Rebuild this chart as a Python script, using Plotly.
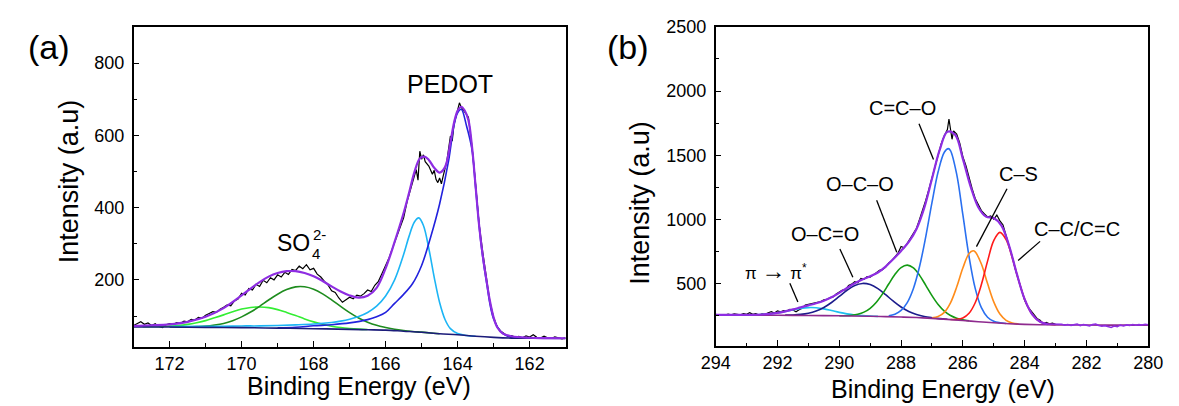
import plotly.graph_objects as go

# ---------------- Panel (a): S 2p ----------------
a_data_E = [173.0,172.9,172.8,172.7,172.6,172.5,172.4,172.3,172.2,172.1,172.0,171.9,171.8,171.7,171.6,171.5,171.4,171.3,171.2,171.1,
            171.0,170.9,170.8,170.7,170.6,170.5,170.4,170.3,170.2,170.1,170.0,169.9,169.8,169.7,169.6,169.5,169.4,169.3,169.2,169.1,
            169.0,168.9,168.8,168.7,168.6,168.5,168.4,168.3,168.2,168.1,168.0,167.9,167.8,167.7,167.6,167.5,167.4,167.3,167.2,167.1,
            167.0,166.9,166.8,166.7,166.6,166.5,166.4,166.3,166.2,166.1,166.0,165.9,165.8,165.7,165.6,165.5,165.4,165.3,165.2,165.15,
            165.1,165.05,165.0,164.95,164.9,164.8,164.7,164.65,164.6,164.55,164.5,164.45,164.4,164.3,164.2,164.15,164.1,164.0,163.95,163.9,
            163.85,163.8,163.7,163.6,163.5,163.4,163.3,163.2,163.1,163.0,162.9,162.8,162.7,162.6,162.5,162.4,162.3,162.2,162.1,162.0,
            161.9,161.8,161.7,161.6,161.5,161.4,161.3,161.2,161.1,161.0]
a_data_I = [74,80,84,77,81,74,79,71,68,76,79,77,82,80,86,84,91,89,96,94,
            102,107,112,110,119,124,131,128,142,147,163,158,176,172,188,182,199,192,206,200,
            214,208,221,215,229,226,238,231,242,228,232,216,208,196,186,170,165,150,138,145,
            152,148,158,155,162,172,168,185,196,218,240,262,290,318,345,372,418,452,488,505,
            476,556,534,546,527,515,492,503,478,469,482,466,488,528,598,584,630,672,690,678,
            672,664,650,568,465,352,275,205,138,96,70,58,50,44,46,41,44,40,45,42,
            48,41,39,44,40,38,42,39,37,40]

a_env_E = [173.0,172.5,172.0,171.5,171.0,170.5,170.0,169.75,169.5,169.25,169.0,168.75,168.5,168.25,168.0,167.75,167.5,167.25,167.0,166.75,
           166.5,166.25,166.0,165.75,165.5,165.35,165.2,165.05,164.92,164.8,164.65,164.5,164.35,164.2,164.1,164.0,163.9,163.8,163.7,163.6,
           163.5,163.4,163.3,163.2,163.1,163.0,162.9,162.75,162.5,162.0,161.5,161.0]
a_env_I = [73,74.5,77,84,98,122,157,176,194,209,219,224,224,219,210,197,182,168,157,151,
           156,178,232,305,385,440,498,536,541,532,510,497,512,580,635,668,679,668,642,568,
           458,348,266,200,140,96,69,52,44,40,39,38.5]

a_bg_E = [173.0,172.0,171.0,170.0,169.0,168.0,167.0,166.5,166.0,165.5,165.0,164.5,164.0,163.5,163.0,162.5,162.0,161.0]
a_bg_I = [70,69.5,68.5,68,66.5,65,63,62,61,58,55,51,48,44,41,39,38.5,38]

a_lg_E = [172.75,172.5,172.25,172.0,171.75,171.5,171.25,171.0,170.75,170.5,170.25,170.0,169.75,169.5,169.25,169.0,168.75,168.5,168.25,168.0,
          167.75,167.5,167.25,167.0,166.75,166.5]
a_lg_I = [70.3,70.6,70.8,72.1,73.6,76.8,81.5,87.3,95.1,103.2,111.8,119.2,123.7,125,123.2,117.7,109.8,101.2,92.1,83.8,
          77.0,71.8,68.1,65.6,63.8,62.6]

a_dg_E = [172.0,171.75,171.5,171.25,171.0,170.75,170.5,170.25,170.0,169.75,169.5,169.25,169.0,168.75,168.5,168.25,168.0,167.75,167.5,167.25,
          167.0,166.75,166.5,166.25,166.0,165.75,165.5,165.25,165.0,164.75,164.5]
a_dg_I = [69.6,69.4,69.8,70.7,72.0,75.0,79.5,87.1,97.7,111.0,126.9,144.4,160.4,173.1,180.7,180.9,174.2,161.4,144.8,126.8,
          109.6,94.7,83.0,74.3,68.3,63.4,60.0,57.4,55.4,53.2,51.1]

a_cy_E = [172.0,171.0,170.5,170.0,169.5,169.0,168.5,168.0,167.5,167.25,167.0,166.75,166.5,166.25,166.0,165.75,165.5,165.35,165.2,165.08,
          164.95,164.8,164.65,164.5,164.35,164.2,164.0,163.75,163.5]
a_cy_I = [71.0,71.7,71.8,72.6,72.7,73.7,75.4,77.8,82.3,85.9,91.1,98.6,109.9,127.3,155.3,200.1,270,320.4,360.2,371.5,
          350.6,286.9,207,137.3,90.4,65.1,51.5,46.3,44]

a_bl_E = [169.0,168.5,168.0,167.5,167.0,166.5,166.25,166.0,165.75,165.5,165.25,165.0,164.75,164.5,164.25,164.1,164.0,163.9,163.75,163.6,
          163.5,163.35,163.2,163.0,162.75,162.5,162.25,162.0]
a_bl_I = [67.5,69,73,76,81,90,98,110,135,160,190,240,318,410,530,628,662,672,625,560,
          455,300,195,92,52,41,39,38.5]

# ---------------- Panel (b): C 1s ----------------
b_data_E = [294.0,293.9,293.8,293.7,293.6,293.5,293.4,293.3,293.2,293.1,293.0,292.9,292.8,292.7,292.6,292.5,292.4,292.3,292.2,292.1,
            292.0,291.9,291.8,291.7,291.6,291.5,291.4,291.3,291.2,291.1,291.0,290.9,290.8,290.7,290.6,290.5,290.4,290.3,290.2,290.1,
            290.0,289.9,289.8,289.7,289.6,289.5,289.4,289.3,289.2,289.1,289.0,288.9,288.8,288.7,288.6,288.5,288.4,288.3,288.2,288.1,
            288.0,287.9,287.8,287.7,287.6,287.5,287.4,287.3,287.2,287.1,287.0,286.9,286.8,286.7,286.6,286.5,286.45,286.4,286.35,286.3,
            286.2,286.1,286.0,285.9,285.8,285.7,285.6,285.5,285.4,285.3,285.2,285.1,285.0,284.9,284.8,284.7,284.6,284.5,284.4,284.3,
            284.2,284.1,284.0,283.9,283.8,283.7,283.6,283.5,283.4,283.3,283.2,283.1,283.0]
b_data_I = [262,256,260,257,263,259,266,261,258,268,263,275,262,268,257,266,263,275,283,272,
            289,282,291,287,300,296,282,298,310,335,341,344,349,355,362,375,378,392,398,421,
            438,450,452,487,497,516,508,541,535,556,551,572,586,604,610,630,663,680,714,738,
            790,780,815,858,890,932,1002,1070,1150,1235,1320,1425,1498,1590,1652,1700,1783,1700,1625,1690,
            1665,1595,1490,1420,1318,1240,1164,1110,1070,1043,1020,1028,1004,1035,990,958,880,800,710,612,
            528,452,372,322,289,262,230,216,189,200,188,194,185]

b_env_E = [294.0,293.5,293.0,292.75,292.5,292.25,292.0,291.75,291.5,291.25,291.0,290.75,290.5,290.25,290.0,289.75,289.5,289.25,289.0,288.75,
           288.5,288.25,288.0,287.75,287.5,287.25,287.0,286.75,286.5,286.25,286.0,285.75,285.5,285.25,285.0,284.75,284.5,284.25,284.0,283.75,
           283.5,283.25]
b_env_I = [258.5,257.6,257.7,258.7,260.6,265.3,273.4,285.4,300.3,316.3,332.2,348.5,368.2,394.7,429,467.7,503.8,532.8,557.8,588,
           633.9,692.5,755.8,825.6,926.8,1090.4,1317.4,1541.7,1683.4,1659.3,1472.5,1258.7,1096.1,1022.4,1011.7,953.2,793.2,575,380.5,260.5,
           205,186.3]
b_tail_E = [283.25,283.2,283.1,283.0,282.9,282.8,282.7,282.6,282.5,282.4,282.3,282.2,282.1,282.0,281.9,281.8,281.7,281.6,281.5,281.4,
            281.3,281.2,281.1,281.0,280.9,280.8,280.7,280.6,280.5,280.4,280.3,280.2,280.1,280.0]
b_tail_I = [186.3,186,182,184,180,185,178,183,176,181,186,175,183,178,172,182,187,176,169,174,
            165,160,171,166,178,172,180,176,183,177,182,179,185,181]

b_bg_E = [294,293,292,291,290,289,288.5,288,287.5,287,286.5,286,285.5,285,284.5,284,283.5,283,282,281,280]
b_bg_I = [258,257,255,253,250.5,247,244.5,241,237,231,223,214,205,196,189,184,181,180,179,178,178]

b_pi_E = [293.25,293.0,292.75,292.5,292.25,292.0,291.75,291.5,291.25,291.0,290.75,290.5,290.25,290.0,289.75,289.5,289.25,289.0,288.75]
b_pi_I = [257.4,257.7,258.7,260.6,265.2,273,284.2,297,308.2,314.4,313.1,304.7,291.5,277.6,265.9,257.4,251.9,248.6,246.4]

b_oco_E = [291.75,291.5,291.25,291.0,290.75,290.5,290.25,290.0,289.75,289.5,289.25,289.0,288.75,288.5,288.25,288.0,287.75,287.5,287.25,287.0,286.75,286.5]
b_oco_I = [255.7,257.3,261.6,270.8,287.9,315.5,354.2,401.2,448.7,485.9,502.5,493.8,461.7,414.8,364.2,319,284.3,260.7,245.2,235.8,228.7,223.6]

b_coc_E = [290.0,289.6,289.4,289.2,289.0,288.8,288.6,288.4,288.2,288.0,287.8,287.6,287.4,287.2,287.0,286.8,286.6,286.4,286.2,286.0,285.8]
b_coc_I = [251.2,255.4,263.1,279.5,309.4,356.6,421.6,498,572.1,626.3,645.4,623.1,565.5,487.6,407.6,338.4,287,252.9,232.1,220,212.4]

b_cco_E = [288.4,288.2,288.0,287.8,287.6,287.4,287.2,287.0,286.8,286.6,286.47,286.4,286.2,286.0,285.8,285.6,285.4,285.2,285.0,284.8,284.6]
b_cco_I = [251.3,263.2,292.5,353.4,463.8,636.1,867.8,1131.4,1371.6,1524,1552.5,1536.7,1353.2,1037.5,712.4,464.2,314.1,239.8,208.2,196.4,191]

b_cs_E = [287.0,286.8,286.6,286.4,286.2,286.0,285.8,285.67,285.6,285.4,285.2,285.0,284.8,284.6,284.4,284.2]
b_cs_I = [235.6,245.2,277.5,351.2,474.4,623,734.8,757,748.6,653.8,501.6,359,264.1,215.2,195,187.5]

b_cc_E = [286.4,286.2,286.0,285.8,285.6,285.4,285.2,285.0,284.8,284.6,284.4,284.2,284.0,283.8,283.6,283.4,283.2,283.0]
b_cc_I = [222.2,223.2,234,270.4,352.4,493.8,676.1,836.5,900.2,843,701.3,530.2,380.5,278.5,221.3,195,184.6,181]

# tick labels
a_xticks = [172, 170, 168, 166, 164, 162]
a_yticks = [200, 400, 600, 800]
b_xticks = [294, 292, 290, 288, 286, 284, 282, 280]
b_yticks = [500, 1000, 1500, 2000, 2500]

FONT = "Liberation Sans, Arial, sans-serif"
W, H = 1179, 406

fig = go.Figure()

def line(x, y, color, width, ax, shape="spline"):
    fig.add_trace(go.Scatter(x=x, y=y, mode="lines", xaxis=ax[0], yaxis=ax[1],
                             line=dict(color=color, width=width, shape=shape),
                             hoverinfo="skip", showlegend=False))

A = ("x", "y")
B = ("x2", "y2")

# panel a
line(a_data_E, a_data_I, "black", 1.2, A, "linear")
line(a_lg_E, a_lg_I, "#33EE33", 1.6, A)
line(a_dg_E, a_dg_I, "#1E8C1E", 1.6, A)
line(a_cy_E, a_cy_I, "#1CB5F5", 1.6, A)
line(a_bl_E, a_bl_I, "#2222DD", 1.6, A)
line(a_bg_E, a_bg_I, "#1C1C7A", 1.6, A)
line(a_env_E, a_env_I, "#8E2DE2", 2.2, A)

# panel b
line(b_data_E, b_data_I, "black", 1.2, B, "linear")
line(b_pi_E, b_pi_I, "#1EC0F0", 1.6, B)
line(b_oco_E, b_oco_I, "#1C1C8C", 1.6, B)
line(b_coc_E, b_coc_I, "#139A13", 1.6, B)
line(b_cco_E, b_cco_I, "#2A70F0", 1.6, B)
line(b_cs_E, b_cs_I, "#FF8C1A", 1.6, B)
line(b_cc_E, b_cc_I, "#FF1A1A", 1.6, B)
line(b_bg_E, b_bg_I, "#8E2A8E", 1.6, B)
line(b_env_E, b_env_I, "#8E2DE2", 2.2, B)
line(b_tail_E, b_tail_I, "#8E2DE2", 1.6, B, "linear")

def xaxis(domain, rng, ticks):
    return dict(domain=domain, range=rng, tickmode="array", tickvals=ticks,
                ticks="inside", ticklen=6, tickwidth=1.3, tickcolor="black",
                minor=dict(dtick=1, tick0=0, ticks="inside", ticklen=3.5, tickwidth=1.2, tickcolor="black"),
                showline=True, linecolor="black", linewidth=1.5, mirror=True,
                showgrid=False, zeroline=False,
                tickfont=dict(family=FONT, size=18, color="black"))

def yaxis(domain, rng, ticks, minor_dt, anchor):
    return dict(domain=domain, range=rng, tickmode="array", tickvals=ticks, anchor=anchor,
                ticks="inside", ticklen=6, tickwidth=1.3, tickcolor="black",
                minor=dict(dtick=minor_dt, tick0=0, ticks="inside", ticklen=3.5, tickwidth=1.2, tickcolor="black"),
                showline=True, linecolor="black", linewidth=1.5, mirror=True,
                showgrid=False, zeroline=False, ticklabelstandoff=4,
                tickfont=dict(family=FONT, size=18, color="black"))

xa = xaxis([121.7 / W, 565 / W], [173, 161], a_xticks)
ya = yaxis([1 - 345 / H, 1 - 17.3 / H], [15.7, 900], a_yticks, 100, "x")
xb = xaxis([719 / W, 1162.8 / W], [294, 280], b_xticks)
xb["anchor"] = "y2"
yb = yaxis([1 - 344.3 / H, 1 - 17.3 / H], [17, 2500], b_yticks, 250, "x2")

annotations = []

def ptext(text, px, py, size, angle=0):
    annotations.append(dict(text=text, x=px / W, y=1 - py / H, xref="paper", yref="paper",
                            showarrow=False, textangle=angle, xanchor="center", yanchor="middle",
                            font=dict(family=FONT, size=size, color="black")))

def dtext(text, x, y, size, ax):
    annotations.append(dict(text=text, x=x, y=y, xref=ax[0], yref=ax[1], showarrow=False,
                            xanchor="center", yanchor="middle",
                            font=dict(family=FONT, size=size, color="black")))

ptext("(a)", 35, 38, 34)
ptext("(b)", 629, 38, 34)
ptext("Intensity (a.u)", 55, 176, 27, -90)
ptext("Binding Energy (eV)", 353, 386, 25)
ptext("Intensity (a.u)", 641, 198, 27, -90)
ptext("Binding Energy (eV)", 952, 389, 25)

dtext("PEDOT", 164.22, 742, 25, A)
dtext("SO", 168.56, 302, 23, A)
dtext("2-", 167.83, 326, 15, A)
dtext("4", 167.92, 272, 15, A)

dtext("C=C–O", 287.96, 1872, 20, B)
dtext("O–C–O", 289.32, 1278, 20, B)
dtext("O–C=O", 290.46, 885, 20, B)
dtext("π <span style='font-size:24px'>→</span> π<sup>*</sup>", 292.06, 606, 17, B)
dtext("C–S", 284.21, 1353, 20, B)
dtext("C–C/C=C", 282.31, 923, 20, B)

leaders = [((287.42, 1745), (286.95, 1467)),
           ((288.79, 1151), (288.14, 746)),
           ((289.98, 771), (289.56, 551)),
           ((291.6, 505), (291.34, 359)),
           ((284.57, 1240), (285.56, 789)),
           ((283.5, 830), (284.21, 682))]
shapes = [dict(type="line", xref="x2", yref="y2", x0=p[0], y0=p[1], x1=q[0], y1=q[1],
               line=dict(color="black", width=1.3)) for p, q in leaders]

fig.update_layout(width=W, height=H, margin=dict(l=0, r=0, t=0, b=0),
                  paper_bgcolor="white", plot_bgcolor="white", showlegend=False,
                  xaxis=xa, yaxis=ya, xaxis2=xb, yaxis2=yb,
                  annotations=annotations, shapes=shapes)

fig.write_html("out.html")
